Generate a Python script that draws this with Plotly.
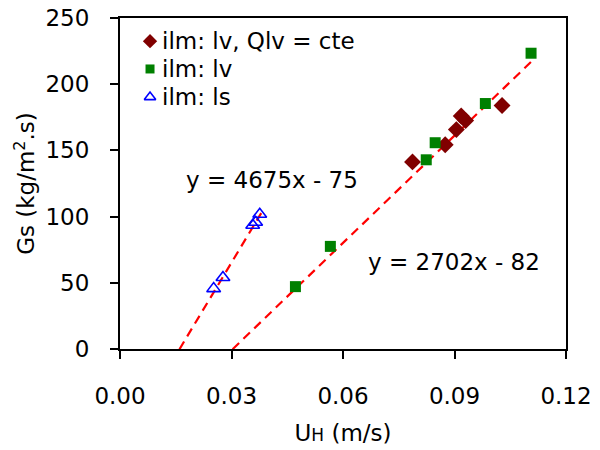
import plotly.graph_objects as go

# Data
diam_x = [0.0787, 0.0875, 0.0905, 0.0918, 0.0930, 0.1028]
diam_y = [141.3, 154.3, 165.7, 176.0, 172.5, 183.9]

sq_x = [0.0472, 0.0566, 0.0824, 0.0848, 0.0983, 0.1106]
sq_y = [47.1, 77.5, 142.9, 155.8, 185.4, 223.4]

tri_x = [0.0252, 0.0277, 0.0357, 0.0365, 0.0376]
tri_y = [45.6, 54.0, 93.5, 95.7, 101.8]

fit1_x = [0.016, 0.038]    # y = 4675x - 75
fit2_x = [0.0303, 0.1106]  # y = 2702x - 82
fit1_y = [4675 * v - 75 for v in fit1_x]
fit2_y = [2702 * v - 82 for v in fit2_x]

series_names = ["ilm: lv, Qlv = cte", "ilm: lv", "ilm: ls"]
x_ticks = [0.00, 0.03, 0.06, 0.09, 0.12]
x_tick_labels = ["0.00", "0.03", "0.06", "0.09", "0.12"]
y_ticks = [0, 50, 100, 150, 200, 250]

FONT = "DejaVu Sans, Verdana, sans-serif"
FS = 23

diam_marker = dict(symbol="diamond", size=13, color="#800000")
sq_marker = dict(symbol="square", size=11, color="#008000")
tri_marker = dict(symbol="triangle-up-open", size=12, color="#0000FF",
                  line=dict(width=1.6, color="#0000FF"))
dash = dict(color="#FF0000", width=2.2, dash="9px,6px")

fig = go.Figure()
fig.add_trace(go.Scatter(x=fit1_x, y=fit1_y, mode="lines", showlegend=False, line=dash))
fig.add_trace(go.Scatter(x=fit2_x, y=fit2_y, mode="lines", showlegend=False, line=dash))
fig.add_trace(go.Scatter(x=diam_x, y=diam_y, mode="markers", name=series_names[0],
                         showlegend=False, marker=diam_marker))
fig.add_trace(go.Scatter(x=sq_x, y=sq_y, mode="markers", name=series_names[1],
                         showlegend=False, marker=sq_marker))
fig.add_trace(go.Scatter(x=tri_x, y=tri_y, mode="markers", name=series_names[2],
                         showlegend=False, marker=tri_marker))

# Manual legend (markers on an invisible overlay axis, texts as annotations)
leg_rows = [0.930, 0.846, 0.761]
leg_markers = [dict(diam_marker, size=11), dict(sq_marker, size=9), dict(tri_marker, size=10)]
for row, mk in zip(leg_rows, leg_markers):
    fig.add_trace(go.Scatter(x=[0.0673], y=[row], mode="markers", marker=mk,
                             xaxis="x2", yaxis="y2", showlegend=False, hoverinfo="skip"))
for row, name in zip(leg_rows, series_names):
    fig.add_annotation(x=0.0897, y=row, xref="paper", yref="paper", text=name,
                       showarrow=False, xanchor="left", yanchor="middle",
                       font=dict(family=FONT, size=FS, color="black"))

fig.add_annotation(x=0.0408, y=128, text="y = 4675x - 75", showarrow=False,
                   font=dict(family=FONT, size=FS, color="black"))
fig.add_annotation(x=0.0898, y=66, text="y = 2702x - 82", showarrow=False,
                   font=dict(family=FONT, size=FS, color="black"))

axis_common = dict(showgrid=False, zeroline=False, showline=True, linecolor="black",
                   linewidth=2, mirror=True, ticks="outside", ticklen=8,
                   tickwidth=1.5, tickcolor="black", automargin=False,
                   tickfont=dict(family=FONT, size=FS, color="black"))

fig.update_layout(
    width=600, height=450,
    margin=dict(l=120, r=34, t=18, b=101),
    paper_bgcolor="white", plot_bgcolor="white",
    font=dict(family=FONT, size=FS, color="black"),
    showlegend=False,
    xaxis=dict(range=[0, 0.12], tickvals=x_ticks, ticktext=x_tick_labels,
               ticklabelstandoff=17,
               title=dict(text="U<span style='font-size:17px'>H</span> (m/s)",
                          font=dict(family=FONT, size=FS), standoff=17),
               **axis_common),
    yaxis=dict(range=[0, 250], tickvals=y_ticks, ticklabelstandoff=16,
               title=dict(text="Gs (kg/m<sup>2</sup>.s)",
                          font=dict(family=FONT, size=FS), standoff=4),
               **axis_common),
    xaxis2=dict(range=[0, 1], overlaying="x", visible=False),
    yaxis2=dict(range=[0, 1], overlaying="y", visible=False),
)

fig.write_html("out.html", config={"displayModeBar": False},
               post_script="document.body.style.margin='0';")
